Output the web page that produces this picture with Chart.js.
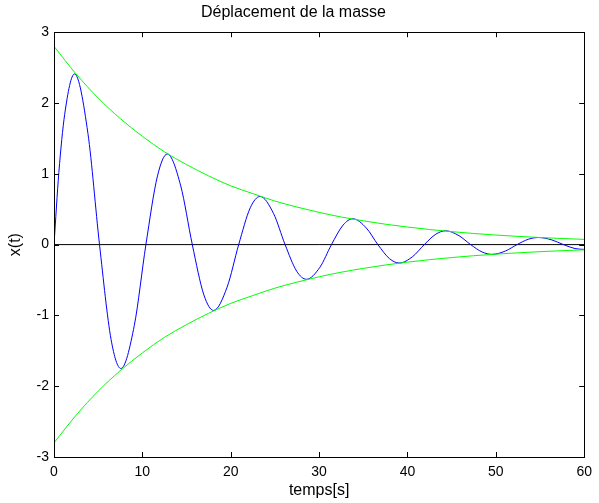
<!DOCTYPE html>
<html>
<head>
<meta charset="utf-8">
<script src="https://cdn.jsdelivr.net/npm/chart.js@4.4.1/dist/chart.umd.min.js"></script>
<style>
  html, body { margin: 0; padding: 0; background: #fff; }
  #wrap { width: 599px; height: 503px; }
</style>
</head>
<body>
<div id="wrap"><canvas id="massChart" width="599" height="503"></canvas></div>
<script>
// time samples and displacement
const tBlue = [0, 0.55, 1.21, 2.32, 3.84, 5.15, 6.46, 7.57, 9.09, 10.40, 11.71, 12.82, 14.34, 15.65,
  16.96, 18.07, 19.59, 20.90, 22.21, 23.32, 24.84, 26.15, 27.46, 28.57, 30.09, 31.40, 32.71, 33.82,
  35.34, 36.65, 37.96, 39.07, 40.59, 41.90, 43.21, 44.32, 45.84, 47.15, 48.46, 49.57, 51.09, 52.40,
  53.71, 54.82, 56.34, 57.65, 58.96, 60];
const xBlue = [0, 1.02, 1.84, 2.41, 1.57, 0, -1.34, -1.75, -1.14, 0, 0.97, 1.28, 0.83, 0,
  -0.71, -0.93, -0.60, 0, 0.52, 0.68, 0.44, 0, -0.375, -0.49, -0.32, 0, 0.275, 0.365,
  0.235, 0, -0.198, -0.26, -0.169, 0, 0.147, 0.195, 0.125, 0, -0.105, -0.138, -0.09, 0,
  0.077, 0.10, 0.066, 0, -0.056, -0.068];

// envelope curves (green)
const tEnv = [0, 2.5, 5, 7.5, 10, 12.5, 15, 17.5, 20, 22.5, 25, 27.5, 30, 32.5, 35, 37.5, 40,
  42.5, 45, 47.5, 50, 52.5, 55, 57.5, 60];
const envUpper = [2.80, 2.41, 2.07, 1.78, 1.53, 1.31, 1.13, 0.97, 0.83, 0.72, 0.615, 0.53, 0.455,
  0.39, 0.336, 0.288, 0.248, 0.213, 0.183, 0.157, 0.135, 0.116, 0.10, 0.086, 0.074];
const envLower = [-2.80, -2.41, -2.07, -1.78, -1.53, -1.31, -1.13, -0.97, -0.83, -0.72, -0.615, -0.53, -0.455,
  -0.39, -0.336, -0.288, -0.248, -0.213, -0.183, -0.157, -0.135, -0.116, -0.10, -0.086, -0.074];

// zero reference line
const tZero = [0, 60];
const xZero = [0, 0];

const xTicks = [0, 10, 20, 30, 40, 50, 60];
const yTicks = [-3, -2, -1, 0, 1, 2, 3];

const FONT = '"Liberation Sans", Arial, Helvetica, sans-serif';

function pairs(xs, ys) {
    return xs.map((x, i) => ({ x: x, y: ys[i] }));
}

// MATLAB-like box with inward ticks
const boxPlugin = {
    id: 'boxTicks',
    afterDraw(chart) {
        const { ctx, chartArea: a, scales } = chart;
        const len = 5;
        ctx.save();
        ctx.strokeStyle = '#000';
        ctx.lineWidth = 1;
        ctx.beginPath();
        xTicks.forEach(v => {
            const px = Math.round(scales.x.getPixelForValue(v)) + 0.5;
            ctx.moveTo(px, a.bottom); ctx.lineTo(px, a.bottom - len);
            ctx.moveTo(px, a.top); ctx.lineTo(px, a.top + len);
        });
        yTicks.forEach(v => {
            const py = Math.round(scales.y.getPixelForValue(v)) + 0.5;
            ctx.moveTo(a.left, py); ctx.lineTo(a.left + len, py);
            ctx.moveTo(a.right, py); ctx.lineTo(a.right - len, py);
        });
        ctx.stroke();
        ctx.strokeRect(Math.round(a.left) + 0.5, Math.round(a.top) + 0.5,
            Math.round(a.right - a.left), Math.round(a.bottom - a.top));
        ctx.restore();
    }
};

const ctx = document.getElementById('massChart').getContext('2d');
new Chart(ctx, {
    type: 'line',
    data: {
        datasets: [
            {
                data: pairs(tZero, xZero),
                borderColor: '#000',
                borderWidth: 1,
                pointRadius: 0,
                order: 3
            },
            {
                data: pairs(tBlue, xBlue),
                borderColor: '#0000ff',
                borderWidth: 1,
                pointRadius: 0,
                cubicInterpolationMode: 'monotone',
                order: 2
            },
            {
                data: pairs(tEnv, envUpper),
                borderColor: '#00ff00',
                borderWidth: 1,
                pointRadius: 0,
                cubicInterpolationMode: 'monotone',
                order: 1
            },
            {
                data: pairs(tEnv, envLower),
                borderColor: '#00ff00',
                borderWidth: 1,
                pointRadius: 0,
                cubicInterpolationMode: 'monotone',
                order: 1
            }
        ]
    },
    options: {
        responsive: false,
        animation: false,
        layout: { padding: { top: 0, left: 0, right: 12, bottom: 0 } },
        plugins: {
            legend: { display: false },
            tooltip: { enabled: false },
            title: {
                display: true,
                text: 'Déplacement de la masse',
                color: '#000',
                font: { family: FONT, size: 16, weight: 'normal' },
                padding: { top: 3, bottom: 10 }
            }
        },
        scales: {
            x: {
                type: 'linear',
                min: 0,
                max: 60,
                grid: { display: false, drawTicks: false },
                border: { display: false },
                afterBuildTicks: s => { s.ticks = xTicks.map(v => ({ value: v })); },
                afterFit: s => { s.height = 46; },
                ticks: {
                    color: '#000',
                    padding: 7,
                    maxRotation: 0,
                    font: { family: FONT, size: 14 }
                },
                title: {
                    display: true,
                    text: 'temps[s]',
                    color: '#000',
                    font: { family: FONT, size: 16 },
                    padding: { top: 0, bottom: 3 }
                }
            },
            y: {
                min: -3,
                max: 3,
                grid: { display: false, drawTicks: false },
                border: { display: false },
                afterBuildTicks: s => { s.ticks = yTicks.map(v => ({ value: v })); },
                afterFit: s => { s.width = 54; },
                ticks: {
                    color: '#000',
                    padding: 5,
                    font: { family: FONT, size: 14 }
                },
                title: {
                    display: true,
                    text: 'x(t)',
                    color: '#000',
                    font: { family: FONT, size: 16 },
                    padding: { top: 6, bottom: 0 }
                }
            }
        }
    },
    plugins: [boxPlugin]
});
</script>
</body>
</html>
